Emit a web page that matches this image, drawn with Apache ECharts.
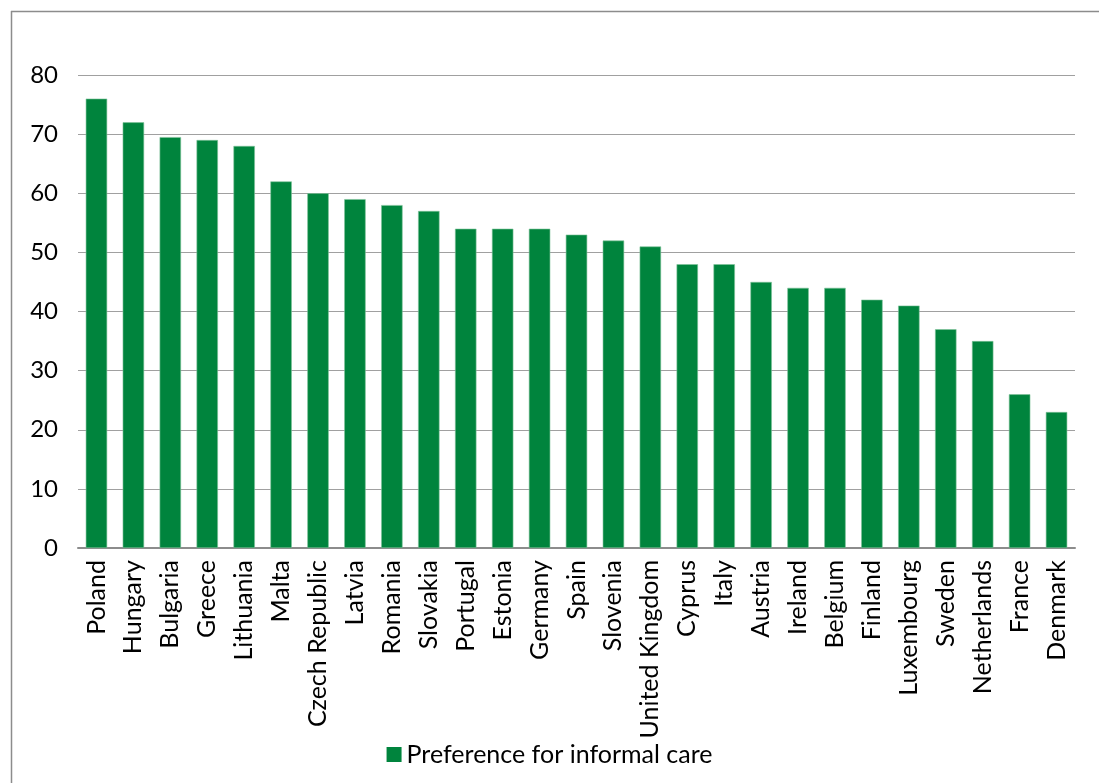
<!DOCTYPE html>
<html><head><meta charset="utf-8">
<script src="https://cdn.jsdelivr.net/npm/echarts@6/dist/echarts.min.js"></script>
<style>html,body{margin:0;padding:0;background:#fff}#c{width:1099px;height:783px}</style>
</head><body><div id="c"></div>
<script>
const categories = ["Poland","Hungary","Bulgaria","Greece","Lithuania","Malta","Czech Republic","Latvia","Romania","Slovakia","Portugal","Estonia","Germany","Spain","Slovenia","United Kingdom","Cyprus","Italy","Austria","Ireland","Belgium","Finland","Luxembourg","Sweden","Netherlands","France","Denmark"];
const values = [76,72,69.5,69,68,62,60,59,58,57,54,54,54,53,52,51,48,48,45,44,44,42,41,37,35,26,23];
const seriesName = "Preference for informal care";
const yTicks = [0,10,20,30,40,50,60,70,80];

const font = "Lato, 'Open Sans', sans-serif";
const chart = echarts.init(document.getElementById('c'));
chart.setOption({
  animation: false,
  backgroundColor: '#fff',
  graphic: [
    {type:'line', shape:{x1:11,y1:11.5,x2:1099,y2:11.5}, style:{stroke:'#8c8c8c',lineWidth:1.5}},
    {type:'line', shape:{x1:11.5,y1:11,x2:11.5,y2:783}, style:{stroke:'#8c8c8c',lineWidth:1.5}}
  ],
  grid: {left:78, right:24, top:75, bottom:235, containLabel:false},
  legend: {
    data:[seriesName], bottom:11, left:'center', itemWidth:15, itemHeight:15, icon:'rect',
    itemGap:6, itemStyle:{borderWidth:0},
    textStyle:{fontFamily:font, fontSize:25, color:'#000'}
  },
  xAxis: {
    type:'category', data:categories,
    axisLine:{lineStyle:{color:'#8c8c8c', width:2}},
    axisTick:{show:false},
    axisLabel:{rotate:90, interval:0, fontFamily:font, fontSize:25, color:'#000', margin:12}
  },
  yAxis: {
    type:'value', min:yTicks[0], max:yTicks[yTicks.length-1], interval:10,
    axisLine:{show:false}, axisTick:{show:false},
    splitLine:{lineStyle:{color:'#a0a0a0', width:1.2}},
    axisLabel:{fontFamily:font, fontSize:24, color:'#000', margin:20}
  },
  series: [{
    name:seriesName, type:'bar', data:values, barWidth:'58%',
    itemStyle:{color:'#00843d', borderColor:'#7fc29b', borderWidth:0.6}
  }]
});
</script></body></html>
